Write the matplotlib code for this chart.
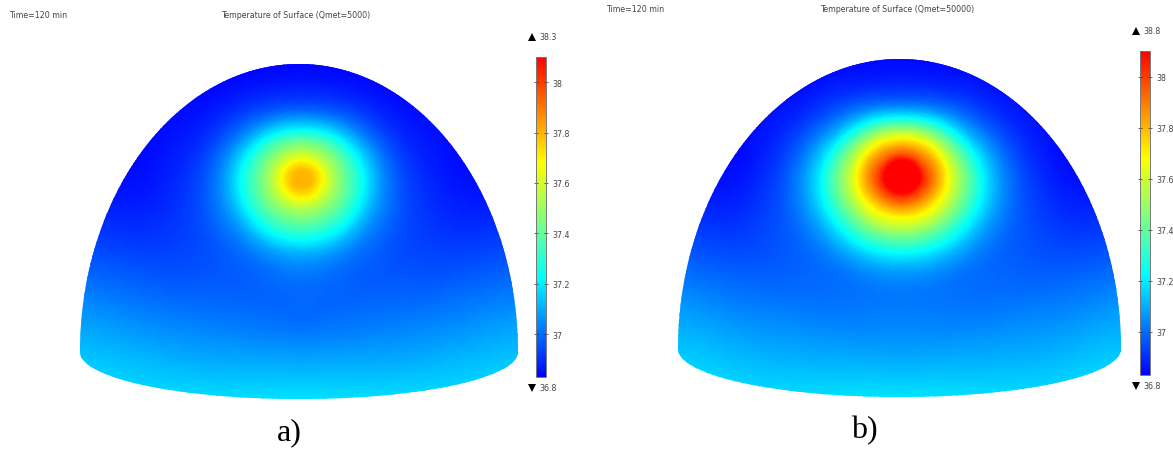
import numpy as np
import matplotlib
matplotlib.use('Agg')
import matplotlib.pyplot as plt
import matplotlib.tri as mtri
from matplotlib.colors import LinearSegmentedColormap, Normalize
from matplotlib.cm import ScalarMappable
from matplotlib.patches import PathPatch
from matplotlib.path import Path

W, H = 1173, 452

# rings around the hot spot (px) and directions measured from "up" (deg)
ring_radius = [10, 20, 30, 40, 50, 60, 70, 85, 105, 130, 170, 225, 290]
ring_angle = [0, 30, 60, 90, 120, 150, 180]

# surface temperature, one row per ring, one column per direction
center_a = 37.80
temp_a = [
    [37.78, 37.78, 37.78, 37.78, 37.78, 37.78, 37.78],
    [37.66, 37.66, 37.66, 37.66, 37.66, 37.67, 37.67],
    [37.52, 37.52, 37.52, 37.52, 37.53, 37.54, 37.54],
    [37.38, 37.39, 37.40, 37.40, 37.42, 37.43, 37.44],
    [37.21, 37.24, 37.27, 37.29, 37.31, 37.33, 37.34],
    [37.08, 37.11, 37.15, 37.18, 37.20, 37.23, 37.24],
    [36.98, 37.01, 37.05, 37.08, 37.10, 37.13, 37.14],
    [36.90, 36.92, 36.95, 36.98, 37.01, 37.03, 37.05],
    [36.85, 36.86, 36.88, 36.91, 36.95, 36.98, 37.00],
    [36.83, 36.83, 36.85, 36.87, 36.93, 36.98, 36.99],
    [36.83, 36.83, 36.83, 36.85, 36.95, 37.03, 37.06],
    [36.83, 36.83, 36.83, 36.86, 37.02, 37.13, 37.19],
    [36.83, 36.83, 36.83, 36.87, 37.08, 37.22, 37.22],
]
center_b = 38.40
temp_b = [
    [38.25, 38.25, 38.25, 38.25, 38.25, 38.25, 38.25],
    [38.00, 38.00, 38.00, 38.02, 38.03, 38.03, 38.03],
    [37.82, 37.83, 37.85, 37.87, 37.87, 37.87, 37.87],
    [37.64, 37.66, 37.68, 37.70, 37.71, 37.71, 37.71],
    [37.42, 37.46, 37.50, 37.54, 37.56, 37.58, 37.58],
    [37.20, 37.26, 37.33, 37.40, 37.42, 37.44, 37.44],
    [37.04, 37.10, 37.18, 37.26, 37.29, 37.31, 37.31],
    [36.92, 36.96, 37.03, 37.10, 37.13, 37.15, 37.15],
    [36.86, 36.88, 36.92, 36.97, 37.01, 37.03, 37.04],
    [36.83, 36.84, 36.86, 36.89, 36.96, 37.00, 37.02],
    [36.83, 36.83, 36.83, 36.85, 36.96, 37.04, 37.07],
    [36.83, 36.83, 36.83, 36.86, 37.03, 37.13, 37.19],
    [36.83, 36.83, 36.83, 36.87, 37.09, 37.22, 37.22],
]

bar_ticks = [37, 37.2, 37.4, 37.6, 37.8, 38]
bar_labels = ['37', '37.2', '37.4', '37.6', '37.8', '38']
t_min, t_max = 36.83, 38.10

# colour scale as on the bars
cmap = LinearSegmentedColormap.from_list('comsol', [
    (0.0, '#0000ff'), (0.31, '#00ffff'), (0.49, '#7fff7f'),
    (0.67, '#ffff00'), (1.0, '#ff0000')], N=512)
norm = Normalize(t_min, t_max)

SPOT_STRETCH = 1.1  # spot is a bit wider than tall


def px_axes(x0, y0, x1, y1):
    return fig.add_axes([x0 / W, 1 - y1 / H, (x1 - x0) / W, (y1 - y0) / H])


def draw_dome(ax, temp, center, left, right, top, edge, bottom, spot_x, spot_y):
    # mesh of rings round the hot spot, left side mirrors the right one
    temp = np.array(temp)
    cols = [0, 1, 2, 3, 4, 5, 6, 5, 4, 3, 2, 1]
    xs, ys, zs = [spot_x], [spot_y], [center]
    for i, r in enumerate(ring_radius):
        for k, c in enumerate(cols):
            a = np.radians(30 * k)
            xs.append(spot_x + r * SPOT_STRETCH * np.sin(a))
            ys.append(spot_y - r * np.cos(a))
            zs.append(temp[i, c])
    tri = mtri.Triangulation(xs, ys)
    fine_tri, fine_z = mtri.UniformTriRefiner(tri).refine_field(np.array(zs), subdiv=4)
    mesh = ax.tripcolor(fine_tri, fine_z, shading='gouraud', cmap=cmap, norm=norm)

    # outline: upper half ellipse over a flat lower one
    cx = (left + right) / 2
    rx = (right - left) / 2
    th = np.linspace(np.pi, 2 * np.pi, 200)
    up = np.column_stack([cx + rx * np.cos(th), edge + (edge - top) * np.sin(th)])
    th = np.linspace(0, np.pi, 100)
    low = np.column_stack([cx + rx * np.cos(th), edge + (bottom - edge) * np.sin(th)])
    outline = PathPatch(Path(np.vstack([up, low])), transform=ax.transData,
                        facecolor='none', edgecolor='none')
    ax.add_patch(outline)
    mesh.set_clip_path(outline)


def draw_bar(ax, x0, x1, y0, y1, max_label, max_y, min_y):
    cax = px_axes(x0, y0, x1, y1)
    cb = fig.colorbar(ScalarMappable(norm=norm, cmap=cmap), cax=cax)
    cb.set_ticks(bar_ticks, labels=bar_labels)
    cb.outline.set_edgecolor('#777777')
    cb.outline.set_linewidth(0.7)
    cax.yaxis.set_ticks_position('both')
    cax.tick_params(axis='y', direction='inout', length=2.5, width=0.5, color='#222222',
                    labelleft=False, labelright=True, labelsize=5.7,
                    labelcolor='#444444', pad=3.5)
    ax.plot(x0 - 4, max_y, marker='^', color='black', ms=5.3, mew=0)
    ax.plot(x0 - 4, min_y, marker='v', color='black', ms=5.3, mew=0)
    ax.text(x0 + 3, max_y, max_label, **small, va='center')
    ax.text(x0 + 3, min_y, '36.8', **small, va='center')


small = dict(fontsize=5.7, color='#444444')
fig = plt.figure(figsize=(W / 100, H / 100), dpi=100)
ax = fig.add_axes([0, 0, 1, 1])
ax.set_xlim(0, W)
ax.set_ylim(H, 0)
ax.axis('off')

draw_dome(ax, temp_a, center_a, 80, 518, 65, 353, 400, 302, 180)
draw_dome(ax, temp_b, center_b, 678, 1121, 60, 350, 398, 902, 177)

draw_bar(ax, 536, 546, 58, 378, '38.3', 38, 389)
draw_bar(ax, 1140, 1150, 52, 376, '38.8', 32, 387)

ax.text(9, 15, 'Time=120 min', **small, va='center')
ax.text(296, 16, 'Temperature of Surface (Qmet=5000)', **small, ha='center', va='center')
ax.text(606, 10, 'Time=120 min', **small, va='center')
ax.text(897, 10, 'Temperature of Surface (Qmet=50000)', **small, ha='center', va='center')

serif = dict(fontsize=23, family='Liberation Serif', color='black', ha='center', va='center')
ax.text(289, 433, 'a)', **serif)
ax.text(864, 431, 'b)', **serif)

fig.savefig('out.png', dpi=100)
